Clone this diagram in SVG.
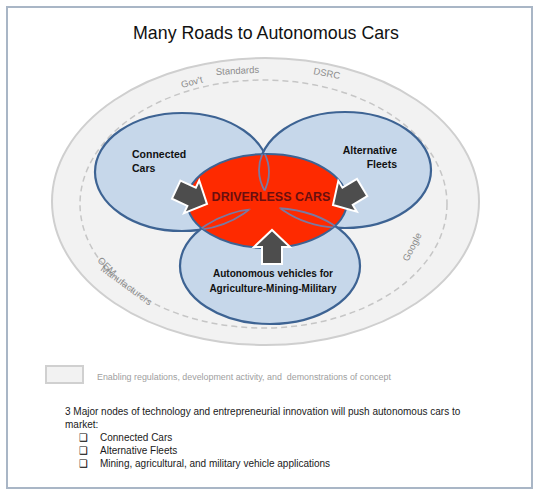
<svg xmlns="http://www.w3.org/2000/svg" width="539" height="496" viewBox="0 0 539 496">
<style>
.lbl{font-family:"Liberation Sans",Arial,sans-serif;font-weight:bold;font-size:10.5px;fill:#111}
.gray{font-family:"Liberation Sans",Arial,sans-serif;font-size:9.5px;fill:#8c8c8c}
.node{fill:#c6d7ea;stroke:#3d6393;stroke-width:2.2}
.lens{fill:none;stroke:#6a82b4;stroke-width:1.8;opacity:0.9}
.body{font-family:"Liberation Sans",Arial,sans-serif;font-size:10px;fill:#1a1a1a}
.box{font-family:"DejaVu Sans",sans-serif;font-size:10px;fill:#000}
.arrow{fill:#4d4d4d;stroke:#fff;stroke-width:2;stroke-linejoin:miter}
</style>
<defs>
<path id="arr" d="M-34,-10 L-17,-10 L-17,-18 L0,0 L-17,18 L-17,10 L-34,10 Z"/>
<clipPath id="redclip"><ellipse cx="267" cy="201" rx="80" ry="47"/></clipPath>
<clipPath id="cc"><ellipse cx="182" cy="172" rx="87" ry="59"/></clipPath>
<clipPath id="af"><ellipse cx="345" cy="170" rx="86" ry="58"/></clipPath>
<clipPath id="av"><ellipse cx="270" cy="266" rx="90" ry="58"/></clipPath>
</defs>
<rect x="7" y="7" width="525" height="481" fill="#fff" stroke="#a9b6c6" stroke-width="2"/>
<text x="266" y="39" text-anchor="middle" font-family="Liberation Sans,Arial,sans-serif" font-size="17.8" fill="#111">Many Roads to Autonomous Cars</text>

<g id="enabling">
<ellipse cx="265.5" cy="201.5" rx="213.5" ry="143.5" fill="#f2f2f2" stroke="#cfcfcf" stroke-width="2"/>
<ellipse cx="263.5" cy="204" rx="183.5" ry="124" fill="none" stroke="#c6c6c6" stroke-width="1.5" stroke-dasharray="6 4"/>
<text class="gray" transform="translate(182,88) rotate(-15)">Gov’t</text>
<text class="gray" transform="translate(216,75) rotate(-3)">Standards</text>
<text class="gray" transform="translate(313,74) rotate(11)">DSRC</text>
<text class="gray" transform="translate(408,262) rotate(-63)">Google</text>
<text class="gray" transform="translate(97,261) rotate(45)">OEM</text>
<text class="gray" transform="translate(100,270) rotate(36)">Manufacturers</text>
</g>

<g id="connected-cars">
<ellipse class="node" cx="182" cy="172" rx="87" ry="59"/>
<text class="lbl" x="132" y="158">Connected</text>
<text class="lbl" x="132" y="172">Cars</text>
</g>
<g id="alternative-fleets">
<ellipse class="node" cx="345" cy="170" rx="86" ry="58"/>
<text class="lbl" x="397" y="154" text-anchor="end">Alternative</text>
<text class="lbl" x="397" y="168" text-anchor="end">Fleets</text>
</g>
<g id="autonomous-vehicles">
<ellipse class="node" cx="270" cy="266" rx="90" ry="58"/>
<text class="lbl" x="273" y="277" text-anchor="middle" style="font-size:10px">Autonomous vehicles for</text>
<text class="lbl" x="273" y="292" text-anchor="middle" style="font-size:10px">Agriculture-Mining-Military</text>
</g>
<g id="driverless-cars">
<ellipse cx="267" cy="201" rx="80" ry="47" fill="#fe2a00" stroke="#3d6393" stroke-width="2"/>
<g clip-path="url(#redclip)">
<g clip-path="url(#af)"><ellipse class="lens" cx="182" cy="172" rx="87" ry="59"/></g>
<g clip-path="url(#cc)"><ellipse class="lens" cx="345" cy="170" rx="86" ry="58"/></g>
<g clip-path="url(#av)"><ellipse class="lens" cx="182" cy="172" rx="87" ry="59"/></g>
<g clip-path="url(#cc)"><ellipse class="lens" cx="270" cy="266" rx="90" ry="58"/></g>
<g clip-path="url(#av)"><ellipse class="lens" cx="345" cy="170" rx="86" ry="58"/></g>
<g clip-path="url(#af)"><ellipse class="lens" cx="270" cy="266" rx="90" ry="58"/></g>
</g>
<text x="271" y="201" text-anchor="middle" font-family="Liberation Sans,Arial,sans-serif" font-weight="bold" font-size="12.5" fill="#6a0f0f">DRIVERLESS CARS</text>
</g>

<g id="connectors">
<use href="#arr" class="arrow" transform="translate(207,204) rotate(25)"/>
<use href="#arr" class="arrow" transform="translate(333,205) rotate(149)"/>
<use href="#arr" class="arrow" transform="translate(272,230) rotate(-90)"/>
</g>

<g id="legend">
<rect x="46" y="366" width="37" height="17" fill="#f2f2f2" stroke="#d0d0d0" stroke-width="2"/>
<text x="97" y="380" font-family="Liberation Sans,Arial,sans-serif" font-size="8.9" fill="#a0a0a0" xml:space="preserve">Enabling regulations, development activity, and  demonstrations of concept</text>
</g>

<g id="notes">
<text class="body" x="65" y="415">3 Major nodes of technology and entrepreneurial innovation will push autonomous cars to</text>
<text class="body" x="65" y="428">market:</text>
<text class="box" x="79" y="441">❑</text>
<text class="body" x="100" y="441">Connected Cars</text>
<text class="box" x="79" y="454">❑</text>
<text class="body" x="100" y="454">Alternative Fleets</text>
<text class="box" x="79" y="467">❑</text>
<text class="body" x="100" y="467">Mining, agricultural, and military vehicle applications</text>
</g>
</svg>
